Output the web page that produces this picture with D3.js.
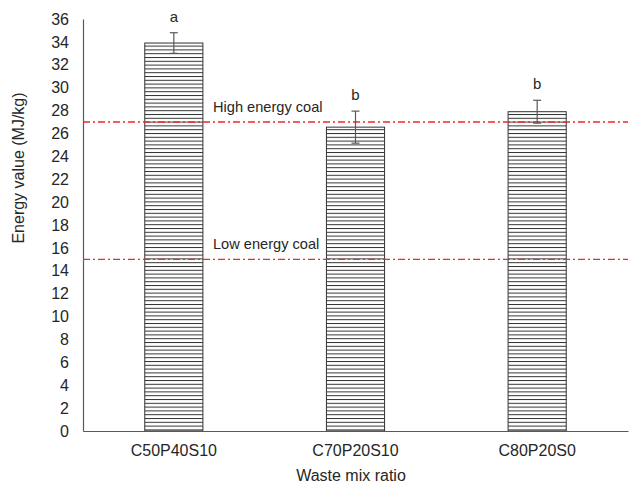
<!DOCTYPE html>
<html>

<head>
    <script src="https://d3js.org/d3.v7.min.js"></script>
    <style>
        body {
            margin: 0;
            background: #fff;
            font-family: "Liberation Sans", Arial, sans-serif;
        }

        .axis text {
            font-size: 16px;
            fill: #262626;
        }
    </style>
</head>

<body>
    <div id="chart"></div>

    <script>
        // chart data
        const categories = ["C50P40S10", "C70P20S10", "C80P20S0"];
        const energyValues = [33.9, 26.55, 27.9];
        const errorValues = [0.9, 1.4, 1.0];
        const groupLetters = ["a", "b", "b"];
        const yTicks = [0, 2, 4, 6, 8, 10, 12, 14, 16, 18, 20, 22, 24, 26, 28, 30, 32, 34, 36];
        const refNames = ["High energy coal", "Low energy coal"];
        const refValues = [27, 15];

        const W = 633, H = 486;
        const margin = { top: 19, right: 5, bottom: 55, left: 83 };
        const width = W - margin.left - margin.right,
            height = H - margin.top - margin.bottom;

        const svg = d3.select("#chart")
            .append("svg")
            .attr("width", W)
            .attr("height", H);

        // horizontal hatch fill
        const pat = svg.append("defs").append("pattern")
            .attr("id", "hatch")
            .attr("patternUnits", "userSpaceOnUse")
            .attr("width", 8)
            .attr("height", 3.8);
        pat.append("rect").attr("width", 8).attr("height", 3.8).attr("fill", "#fff");
        pat.append("line")
            .attr("x1", 0).attr("x2", 8)
            .attr("y1", 0.5).attr("y2", 0.5)
            .attr("stroke", "#333")
            .attr("stroke-width", 1);

        const g = svg.append("g")
            .attr("transform", `translate(${margin.left},${margin.top})`);

        const x = d3.scaleBand()
            .domain(categories)
            .range([0, width])
            .paddingInner(0.68)
            .paddingOuter(0.34);

        const y = d3.scaleLinear()
            .domain([0, 36])
            .range([height, 0]);

        // y axis
        const yAxis = g.append("g")
            .attr("class", "axis")
            .call(d3.axisLeft(y).tickValues(yTicks).tickSize(0).tickPadding(14));
        yAxis.select(".domain").attr("stroke", "#595959").attr("stroke-width", 1.2);

        // bars
        g.selectAll(".bar")
            .data(energyValues)
            .join("rect")
            .attr("class", "bar")
            .attr("x", (d, i) => x(categories[i]))
            .attr("width", x.bandwidth())
            .attr("y", d => y(d))
            .attr("height", d => height - y(d))
            .attr("fill", "url(#hatch)")
            .attr("stroke", "#333")
            .attr("stroke-width", 1);

        // reference lines
        g.selectAll(".ref")
            .data(refValues)
            .join("line")
            .attr("class", "ref")
            .attr("x1", 0)
            .attr("x2", width)
            .attr("y1", d => y(d))
            .attr("y2", d => y(d))
            .attr("stroke", "#ee2a2a")
            .attr("stroke-width", 1.3)
            .attr("stroke-dasharray", "7,3,2,3");

        g.selectAll(".refLabel")
            .data(refValues)
            .join("text")
            .attr("class", "refLabel")
            .attr("x", 130)
            .attr("y", d => y(d) - 10)
            .attr("font-size", 14.6)
            .attr("fill", "#262626")
            .text((d, i) => refNames[i]);

        // error bars
        const cx = i => x(categories[i]) + x.bandwidth() / 2;
        const err = g.selectAll(".err")
            .data(energyValues)
            .join("g")
            .attr("class", "err")
            .attr("stroke", "#595959")
            .attr("stroke-width", 1.2);
        err.append("line")
            .attr("x1", (d, i) => cx(i)).attr("x2", (d, i) => cx(i))
            .attr("y1", (d, i) => y(d + errorValues[i]))
            .attr("y2", (d, i) => y(d - errorValues[i]));
        err.append("line")
            .attr("x1", (d, i) => cx(i) - 4).attr("x2", (d, i) => cx(i) + 4)
            .attr("y1", (d, i) => y(d + errorValues[i]))
            .attr("y2", (d, i) => y(d + errorValues[i]));
        err.append("line")
            .attr("x1", (d, i) => cx(i) - 4).attr("x2", (d, i) => cx(i) + 4)
            .attr("y1", (d, i) => y(d - errorValues[i]))
            .attr("y2", (d, i) => y(d - errorValues[i]));

        // significance letters
        g.selectAll(".letter")
            .data(energyValues)
            .join("text")
            .attr("class", "letter")
            .attr("x", (d, i) => cx(i))
            .attr("y", (d, i) => y(d + errorValues[i]) - 11)
            .attr("text-anchor", "middle")
            .attr("font-size", 15)
            .attr("fill", "#262626")
            .text((d, i) => groupLetters[i]);

        // x axis
        const xAxis = g.append("g")
            .attr("class", "axis")
            .attr("transform", `translate(0,${height})`)
            .call(d3.axisBottom(x).tickSize(0).tickPadding(14));
        xAxis.select(".domain").attr("stroke", "#595959").attr("stroke-width", 1.2);

        // axis titles
        svg.append("text")
            .attr("x", 351)
            .attr("y", 481)
            .attr("text-anchor", "middle")
            .attr("font-size", 16)
            .attr("fill", "#262626")
            .text("Waste mix ratio");

        svg.append("text")
            .attr("transform", "translate(24,168) rotate(-90)")
            .attr("text-anchor", "middle")
            .attr("font-size", 16)
            .attr("fill", "#262626")
            .text("Energy value (MJ/kg)");
    </script>
</body>

</html>
